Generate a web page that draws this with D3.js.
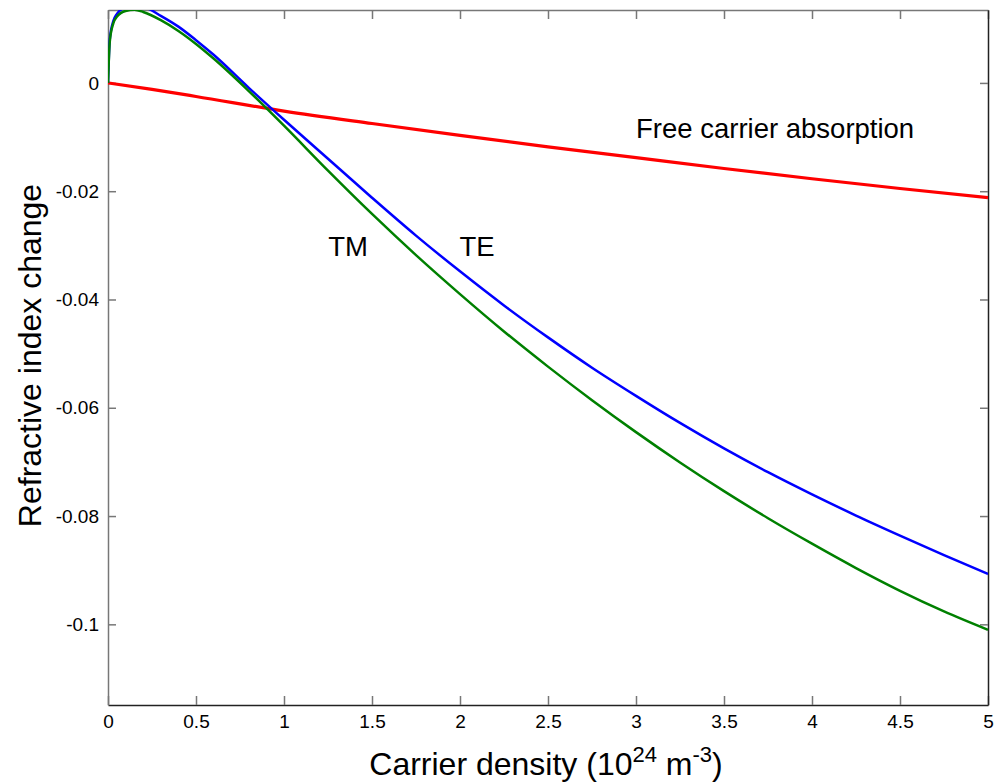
<!DOCTYPE html>
<html>
<head>
<meta charset="utf-8">
<script src="https://cdn.jsdelivr.net/npm/d3@7"></script>
<style>
  body { margin: 0; background: #fff; }
  svg { font-family: "Liberation Sans", Arial, sans-serif; }
</style>
</head>
<body>
<script>
// #region DATA
var density = [0, 0.01, 0.03, 0.05, 0.1, 0.15, 0.2, 0.3, 0.4, 0.5, 0.6, 0.8, 1.0, 1.25, 1.5, 1.75, 2.0,
               2.25, 2.5, 2.75, 3.0, 3.25, 3.5, 3.75, 4.0, 4.25, 4.5, 4.75, 5.0];

var teChange = [0, 0.0080, 0.0114, 0.0127, 0.0140, 0.0143, 0.0141, 0.0124, 0.0104, 0.0079, 0.0052, -0.0009,
                -0.0068, -0.0140, -0.0212, -0.0282, -0.0348, -0.0411, -0.0470, -0.0526, -0.0578, -0.0628,
                -0.0675, -0.0719, -0.0760, -0.0799, -0.0836, -0.0872, -0.0907];

var tmChange = [0, 0.0076, 0.0110, 0.0122, 0.0133, 0.0135, 0.0131, 0.0116, 0.0096, 0.0072, 0.0045, -0.0015,
                -0.0079, -0.0162, -0.0242, -0.0318, -0.0390, -0.0459, -0.0524, -0.0586, -0.0645, -0.0701,
                -0.0754, -0.0804, -0.0851, -0.0896, -0.0938, -0.0976, -0.1010];

var fcaDensity = [0, 0.25, 0.5, 1, 1.5, 2, 2.5, 3, 3.5, 4, 4.5, 5];
var fcaChange = [0, -0.0012, -0.0025, -0.0052, -0.0075, -0.0097, -0.0118, -0.0138, -0.0158, -0.0177, -0.0195, -0.0212];

var xTicks = [0, 0.5, 1, 1.5, 2, 2.5, 3, 3.5, 4, 4.5, 5];
var yTicks = [0, -0.02, -0.04, -0.06, -0.08, -0.1];

var labels = [
    {text: "Free carrier absorption", x: 3.0, y: -0.0101, anchor: "start"},
    {text: "TM", x: 1.364, y: -0.0319, anchor: "middle"},
    {text: "TE", x: 2.097, y: -0.0319, anchor: "middle"}
];
// #endregion

// #region SETUP
var width = 996, height = 783;
var margin = {top: 10, right: 8, bottom: 78, left: 108};

var svg = d3.select("body")
    .append("svg")
    .attr("width", width)
    .attr("height", height);

var x = d3.scaleLinear()
    .domain([0, 5])
    .range([margin.left, width - margin.right]);

var y = d3.scaleLinear()
    .domain([-0.1149, 0.01347])
    .range([height - margin.bottom, margin.top]);

svg.append("clipPath")
    .attr("id", "plot-clip")
    .append("rect")
        .attr("x", margin.left)
        .attr("y", margin.top)
        .attr("width", width - margin.left - margin.right)
        .attr("height", height - margin.top - margin.bottom);
// #endregion

// #region AXES
var tickFont = "19px";

var xAxis = svg.append("g")
    .attr("transform", "translate(0," + (height - margin.bottom) + ")")
    .call(d3.axisBottom(x).tickValues(xTicks).tickSizeInner(-9).tickSizeOuter(0).tickPadding(10).tickFormat(d => String(d)));

var yAxis = svg.append("g")
    .attr("transform", "translate(" + margin.left + ",0)")
    .call(d3.axisLeft(y).tickValues(yTicks).tickSizeInner(-8).tickSizeOuter(0).tickPadding(9)
        .tickFormat(d => d === 0 ? "0" : String(+d.toFixed(2))));

// ticks on top and right too, matlab style box
var xTop = svg.append("g")
    .attr("transform", "translate(0," + margin.top + ")")
    .call(d3.axisTop(x).tickValues(xTicks).tickSizeInner(-9).tickSizeOuter(0).tickFormat(""));

var yRight = svg.append("g")
    .attr("transform", "translate(" + (width - margin.right) + ",0)")
    .call(d3.axisRight(y).tickValues(yTicks).tickSizeInner(-8).tickSizeOuter(0).tickFormat(""));

[xAxis, yAxis].forEach(function(a) {
    a.selectAll("text")
        .style("font-size", tickFont)
        .style("font-family", "'Liberation Sans', Arial, sans-serif")
        .attr("fill", "#000");
});

xAxis.select(".domain").attr("stroke", "#222").attr("stroke-width", 1.5);
yRight.select(".domain").attr("stroke", "#222").attr("stroke-width", 1.5);
yAxis.select(".domain").attr("stroke", "#777").attr("stroke-width", 1.5);
xTop.select(".domain").attr("stroke", "#777").attr("stroke-width", 1.5);
[xAxis, yAxis, xTop, yRight].forEach(function(a) {
    a.selectAll(".tick line").attr("stroke", "#777").attr("stroke-width", 1.5);
});
// #endregion

// #region LINES
var plot = svg.append("g")
    .attr("clip-path", "url(#plot-clip)");

var line = d3.line()
    .x(d => x(d[0]))
    .y(d => y(d[1]))
    .curve(d3.curveMonotoneX);

plot.append("path")
    .datum(d3.zip(fcaDensity, fcaChange))
    .attr("d", line)
    .attr("fill", "none")
    .attr("stroke", "#ff0000")
    .attr("stroke-width", 3.2);

plot.append("path")
    .datum(d3.zip(density, teChange))
    .attr("d", line)
    .attr("fill", "none")
    .attr("stroke", "#0000ff")
    .attr("stroke-width", 2.5);

plot.append("path")
    .datum(d3.zip(density, tmChange))
    .attr("d", line)
    .attr("fill", "none")
    .attr("stroke", "#008000")
    .attr("stroke-width", 2.5);
// #endregion

// #region LABELS
svg.append("g")
    .selectAll("text")
    .data(labels)
    .enter()
    .append("text")
        .text(d => d.text)
        .attr("x", d => x(d.x))
        .attr("y", d => y(d.y))
        .attr("text-anchor", d => d.anchor)
        .style("font-size", "27.5px")
        .attr("fill", "#000");

var xTitle = svg.append("text")
    .attr("x", (margin.left + width - margin.right) / 2 - 2)
    .attr("y", 775)
    .attr("text-anchor", "middle")
    .style("font-size", "32px")
    .attr("fill", "#000");
xTitle.append("tspan").text("Carrier density (10");
xTitle.append("tspan").text("24").attr("dy", -13).style("font-size", "22px");
xTitle.append("tspan").text(" m").attr("dy", 13);
xTitle.append("tspan").text("-3").attr("dy", -13).style("font-size", "22px");
xTitle.append("tspan").text(")").attr("dy", 13);

svg.append("text")
    .attr("transform", "translate(41," + ((margin.top + height - margin.bottom) / 2 - 2) + ") rotate(-90)")
    .attr("text-anchor", "middle")
    .style("font-size", "32px")
    .attr("fill", "#000")
    .text("Refractive index change");
// #endregion
</script>
</body>
</html>
